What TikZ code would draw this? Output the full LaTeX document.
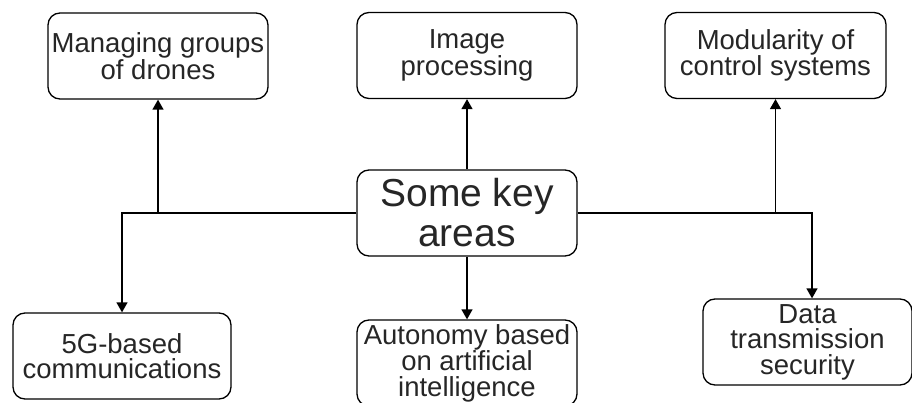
\documentclass[tikz,border=0pt]{standalone}
\usepackage{fontspec}
\setmainfont{Liberation Sans}
\usetikzlibrary{arrows.meta}
\begin{document}
\begin{tikzpicture}[x=1pt,y=-1pt,
  box/.style={draw=black, line width=1.3pt, rounded corners=12pt, align=center,
    minimum width=220pt, minimum height=86pt, inner sep=0pt, text=black!85,
    font=\fontsize{27.5}{25.5}\selectfont},
  bigbox/.style={box, font=\fontsize{39}{40}\selectfont},
  conn/.style={draw=black, line width=1.3pt, -{Triangle[length=10pt,width=11pt]}},
  link/.style={draw=black, line width=1.3pt}]
\useasboundingbox (0,0) rectangle (912,403);
\clip (0,0) rectangle (912,403);
\node[box] (mg) at (158,56) {Managing groups\\of drones};
\node[box] (ip) at (467,55.5) {Image\\processing};
\node[box, minimum width=221pt] (mc) at (775.5,55.5) {Modularity of\\control systems};
\node[bigbox] (c) at (467,213) {Some key\\areas};
\node[box, minimum width=218pt] (g5) at (122,356) {5G-based\\communications};
\node[box] (ai) at (467,363) {Autonomy based\\on artificial\\intelligence};
\node[box, minimum width=209pt] (ds) at (807.5,342) {Data\\transmission\\security};
\draw[conn] (c.west) -| (g5.north);
\draw[conn] (c.east) -| ([xshift=4.5pt]ds.north);
\draw[conn] (c.west -| mg.south) -- (mg.south);
\draw[conn] (c.east -| mc.south) -- (mc.south);
\draw[conn] (c.north) -- (ip.south);
\draw[conn] (c.south) -- (ai.north);
\end{tikzpicture}
\end{document}
